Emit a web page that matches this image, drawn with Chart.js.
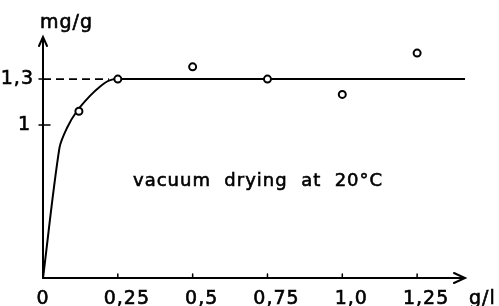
<!DOCTYPE html>
<html>
<head>
<meta charset="utf-8">
<script src="https://cdn.jsdelivr.net/npm/chart.js@4"></script>
<style>
  html, body { margin: 0; padding: 0; background: #fff; }
  #wrap { width: 499px; height: 306px; }
</style>
</head>
<body>
<div id="wrap"><canvas id="chart" width="499" height="306"></canvas></div>
<script>
// measured points (open circles)
const pointX = [0.12, 0.25, 0.5, 0.75, 1.0, 1.25];
const pointY = [1.09, 1.3, 1.38, 1.3, 1.2, 1.47];

// drawn curve
const curveX = [0, 0.055, 0.08, 0.113, 0.157, 0.19, 0.22, 0.25, 1.41];
const curveY = [0, 0.85, 0.98, 1.09, 1.19, 1.25, 1.29, 1.30, 1.30];

// dashed guide at the plateau level
const guideX = [0, 0.22];
const guideY = [1.3, 1.3];

// axis ticks and labels
const xTicks = [0.25, 0.5, 0.75, 1.0, 1.25];
const xTickLabels = ["0,25", "0,5", "0,75", "1,0", "1,25"];
const yTicks = [1.0, 1.3];
const yTickLabels = ["1", "1,3"];

const FONT = '"DejaVu Sans", sans-serif';

const toXY = (xs, ys) => xs.map((x, i) => ({ x: x, y: ys[i] }));

// text slightly heavier, like the pen lettering
function inkText(ctx, s, x, y) {
    ctx.fillText(s, x, y);
    ctx.strokeText(s, x, y);
}

// axes with arrows, ticks and text
const axesPlugin = {
    id: 'axesPlugin',
    beforeDatasetsDraw(chart) {
        const ctx = chart.ctx;
        const xs = chart.scales.x;
        const ys = chart.scales.y;
        const x0 = xs.getPixelForValue(0);
        const y0 = ys.getPixelForValue(0);
        const xEnd = xs.right;
        const yTop = ys.top;

        ctx.save();
        ctx.strokeStyle = '#000';
        ctx.lineWidth = 2;
        ctx.lineCap = 'round';

        // y axis + arrow
        ctx.beginPath();
        ctx.moveTo(x0, y0);
        ctx.lineTo(x0, yTop);
        ctx.moveTo(x0 - 4, yTop + 9);
        ctx.lineTo(x0, yTop);
        ctx.lineTo(x0 + 4, yTop + 9);
        ctx.stroke();

        // x axis + arrow
        ctx.beginPath();
        ctx.moveTo(x0, y0);
        ctx.lineTo(xEnd, y0);
        ctx.moveTo(xEnd - 11, y0 - 5);
        ctx.lineTo(xEnd, y0);
        ctx.lineTo(xEnd - 11, y0 + 5);
        ctx.stroke();

        // tick marks
        ctx.lineWidth = 1.5;
        ctx.beginPath();
        xTicks.forEach(v => {
            const px = xs.getPixelForValue(v);
            ctx.moveTo(px, y0);
            ctx.lineTo(px, y0 - 4);
        });
        yTicks.forEach(v => {
            const py = ys.getPixelForValue(v);
            ctx.moveTo(x0 - 4, py);
            ctx.lineTo(x0 + (v === 1 ? 7 : 0), py);
        });
        ctx.stroke();

        // tick labels
        ctx.fillStyle = '#000';
        ctx.lineWidth = 0.6;
        ctx.font = '19px ' + FONT;
        ctx.letterSpacing = '1px';
        ctx.textBaseline = 'alphabetic';
        ctx.textAlign = 'center';
        inkText(ctx, '0', x0, 304);
        xTicks.forEach((v, i) => {
            inkText(ctx, xTickLabels[i], xs.getPixelForValue(v) + 9, 304);
        });
        ctx.textAlign = 'left';
        inkText(ctx, 'g/l', 469, 304);

        ctx.textAlign = 'right';
        ctx.textBaseline = 'middle';
        yTicks.forEach((v, i) => {
            inkText(ctx, yTickLabels[i], v === 1 ? 31 : 34, ys.getPixelForValue(v));
        });

        // unit on top
        ctx.textAlign = 'left';
        ctx.textBaseline = 'alphabetic';
        inkText(ctx, 'mg/g', 40, 28);

        // annotation
        ctx.font = '18px ' + FONT;
        inkText(ctx, 'vacuum  drying  at  20°C', 133, 186);
        ctx.restore();
    }
};

new Chart(document.getElementById('chart'), {
    type: 'scatter',
    data: {
        datasets: [
            {
                data: toXY(pointX, pointY),
                showLine: false,
                pointRadius: 3.5,
                pointBorderWidth: 2,
                pointBackgroundColor: '#fff',
                pointBorderColor: '#000'
            },
            {
                data: toXY(curveX, curveY),
                showLine: true,
                borderColor: '#000',
                borderWidth: 2,
                tension: 0.3,
                pointRadius: 0
            },
            {
                data: toXY(guideX, guideY),
                showLine: true,
                borderColor: '#000',
                borderWidth: 1.8,
                borderDash: [8, 5],
                pointRadius: 0
            }
        ]
    },
    options: {
        responsive: false,
        animation: false,
        layout: { padding: { left: 43, right: 34, top: 37, bottom: 28 } },
        scales: {
            x: { type: 'linear', min: 0, max: 1.41, display: false },
            y: { type: 'linear', min: 0, max: 1.575, display: false }
        },
        plugins: {
            legend: { display: false },
            tooltip: { enabled: false }
        }
    },
    plugins: [axesPlugin]
});
</script>
</body>
</html>
